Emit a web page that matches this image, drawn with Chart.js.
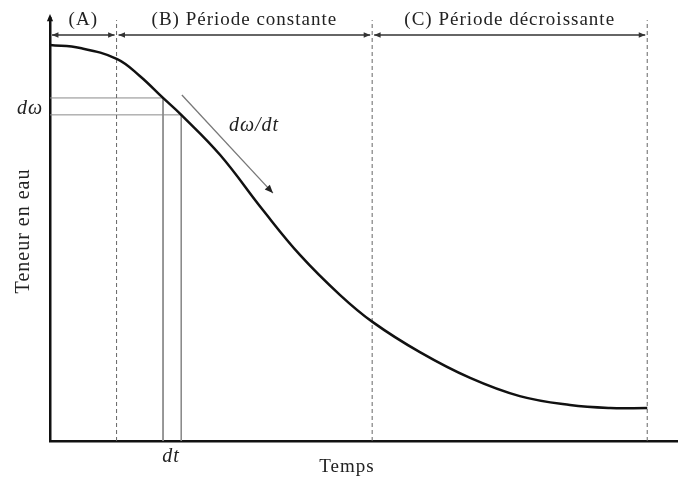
<!DOCTYPE html>
<html>
<head>
<meta charset="utf-8">
<script src="https://cdn.jsdelivr.net/npm/chart.js@4/dist/chart.umd.min.js"></script>
<style>
  body { margin: 0; background: #fff; }
  #wrap { width: 678px; height: 477px; }
</style>
</head>
<body>
<div id="wrap"><canvas id="myChart"></canvas></div>
<script>
// drying curve (x: time, y: water content, both 0-100)
var timeX  = [0, 4.8, 10.7, 14.3, 18.0, 20.9, 27.1, 33.9, 39.8, 46.2, 51.4, 58.9, 66.9, 74.8, 82.8, 89.2, 95.1];
var waterY = [93.6, 92.9, 90.3, 86.3, 81.1, 77.1, 67.6, 54.6, 44.0, 34.5, 28.1, 21.0, 14.9, 10.6, 8.5, 7.8, 7.8];
var phaseBounds = [0, 10.6, 51.3, 95.1];
var phaseLabels = ['(A)', '(B) Période constante', '(C) Période décroissante'];
var stepIndex = [4, 5];               // the two points giving dω and dt
var slopeArrow = [[21.0, 81.8], [35.5, 58.6]];

var serif = '"Liberation Serif", "DejaVu Serif", serif';

var curve = timeX.map(function (x, i) { return { x: x, y: waterY[i] }; });

var datasets = [{
    data: curve,
    borderColor: '#111',
    borderWidth: 2.5,
    pointRadius: 0,
    tension: 0.4,
    fill: false
}];

// dashed phase limits
phaseBounds.slice(1).forEach(function (b) {
    datasets.push({
        data: [{ x: b, y: 0 }, { x: b, y: 99.5 }],
        borderColor: '#666',
        borderWidth: 1,
        borderDash: [4, 3],
        pointRadius: 0
    });
});

// dω / dt guide lines
stepIndex.forEach(function (i) {
    datasets.push({
        data: [{ x: 0, y: waterY[i] }, { x: timeX[i], y: waterY[i] }, { x: timeX[i], y: 0 }],
        borderColor: '#8a8a8a',
        borderWidth: 1,
        pointRadius: 0
    });
});

function arrowHead(ctx, x1, y1, x2, y2, size) {
    var a = Math.atan2(y2 - y1, x2 - x1);
    ctx.beginPath();
    ctx.moveTo(x2, y2);
    ctx.lineTo(x2 - size * Math.cos(a - 0.4), y2 - size * Math.sin(a - 0.4));
    ctx.lineTo(x2 - size * Math.cos(a + 0.4), y2 - size * Math.sin(a + 0.4));
    ctx.closePath();
    ctx.fill();
}

var extras = {
    id: 'extras',
    afterDraw: function (chart) {
        var ctx = chart.ctx, xs = chart.scales.x, ys = chart.scales.y;
        var area = chart.chartArea;
        ctx.save();

        // y axis arrow tip
        ctx.fillStyle = '#111';
        arrowHead(ctx, area.left, area.top + 10, area.left, area.top - 4, 8);

        // phase arrows along the top
        var ay = 35;
        ctx.strokeStyle = '#333';
        ctx.lineWidth = 1.5;
        ctx.letterSpacing = '1px';
        for (var i = 0; i < phaseLabels.length; i++) {
            var p1 = xs.getPixelForValue(phaseBounds[i]) + 2;
            var p2 = xs.getPixelForValue(phaseBounds[i + 1]) - 2;
            ctx.beginPath();
            ctx.moveTo(p1, ay);
            ctx.lineTo(p2, ay);
            ctx.stroke();
            ctx.fillStyle = '#333';
            arrowHead(ctx, p2, ay, p1, ay, 7);
            arrowHead(ctx, p1, ay, p2, ay, 7);
            ctx.font = '19px ' + serif;
            ctx.textAlign = 'center';
            ctx.textBaseline = 'alphabetic';
            ctx.fillStyle = '#222';
            ctx.fillText(phaseLabels[i], (p1 + p2) / 2, 25);
        }

        // slope arrow
        var sx1 = xs.getPixelForValue(slopeArrow[0][0]), sy1 = ys.getPixelForValue(slopeArrow[0][1]);
        var sx2 = xs.getPixelForValue(slopeArrow[1][0]), sy2 = ys.getPixelForValue(slopeArrow[1][1]);
        ctx.strokeStyle = '#777';
        ctx.lineWidth = 1.3;
        ctx.beginPath();
        ctx.moveTo(sx1, sy1);
        ctx.lineTo(sx2, sy2);
        ctx.stroke();
        ctx.fillStyle = '#222';
        arrowHead(ctx, sx1, sy1, sx2, sy2, 9);

        // text labels
        ctx.fillStyle = '#222';
        ctx.font = 'italic 20px ' + serif;
        ctx.textAlign = 'center';
        ctx.fillText('dω/dt', 254, 131);
        ctx.fillText('dω', 30, 114);
        ctx.fillText('dt', 171, 462);
        ctx.font = '19px ' + serif;
        ctx.fillText('Temps', 347, 472);
        ctx.font = '20px ' + serif;
        ctx.translate(29, 231);
        ctx.rotate(-Math.PI / 2);
        ctx.fillText('Teneur en eau', 0, 0);
        ctx.restore();
    }
};

var chart = new Chart(document.getElementById('myChart').getContext('2d'), {
    type: 'line',
    data: { datasets: datasets },
    plugins: [extras],
    options: {
        responsive: true,
        maintainAspectRatio: false,
        animation: false,
        layout: { padding: { left: 42, top: 18, right: 0, bottom: 28 } },
        plugins: { legend: { display: false }, tooltip: { enabled: false } },
        scales: {
            x: {
                type: 'linear', min: 0, max: 100,
                ticks: { display: false },
                grid: { display: false },
                border: { display: true, color: '#111', width: 2.5 }
            },
            y: {
                type: 'linear', min: 0, max: 100,
                ticks: { display: false },
                grid: { display: false },
                border: { display: true, color: '#111', width: 2.5 }
            }
        }
    }
});
</script>
</body>
</html>
